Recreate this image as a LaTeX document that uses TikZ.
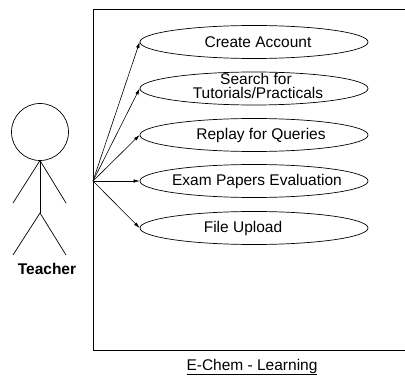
\documentclass[tikz,border=0pt]{standalone}
\usepackage{fontspec}
\setmainfont{Liberation Sans}
\usetikzlibrary{shapes.geometric,arrows.meta,calc}
\begin{document}
\begin{tikzpicture}[x=1pt,y=1pt,
  usecase/.style={draw, ellipse, line width=0.7pt, minimum width=228pt, minimum height=33pt, inner sep=0pt},
  uctext/.style={font=\fontsize{15.5}{16}\selectfont, inner sep=0pt, align=center},
  assoc/.style={draw, line width=0.6pt, -{Latex[length=6pt,width=3.5pt]}},
  stick/.style={line width=0.7pt}]
\useasboundingbox (0,0) rectangle (405,-377);

% system boundary
\draw[line width=0.8pt] (420,-9) -- (93,-9) -- (93,-350) -- (420,-350);

% actor
\node[draw, circle, stick, minimum size=57pt, inner sep=0pt] (head) at (40,-132) {};
\coordinate (neck) at (40,-160.5);
\coordinate (hip) at (40,-213);
\coordinate (lhand) at (13,-203);
\coordinate (rhand) at (66,-203);
\coordinate (lfoot) at (13,-255);
\coordinate (rfoot) at (66,-255);
\draw[stick] (head.south) -- (hip);
\draw[stick] (neck) -- (lhand);
\draw[stick] (neck) -- (rhand);
\draw[stick] (hip) -- (lfoot);
\draw[stick] (hip) -- (rfoot);
\node[uctext, font=\fontsize{15.5}{16}\selectfont\bfseries] (teacher) at (47,-269) {Teacher};

% use cases
\node[usecase] (uc1) at (254,-42) {};
\node[usecase] (uc2) at (254,-88.5) {};
\node[usecase] (uc3) at (254,-135) {};
\node[usecase] (uc4) at (254,-181) {};
\node[usecase] (uc5) at (254,-228) {};

\node[uctext] at ($(uc1)+(4,0)$) {Create Account};
\node[uctext, text height=11pt, text depth=3pt] at ($(uc2)+(2,7.5)$) {Search for};
\node[uctext, text height=11pt, text depth=3pt] at ($(uc2)+(4,-6.5)$) {Tutorials/Practicals};
\node[uctext] at ($(uc3)+(7,0)$) {Replay for Queries};
\node[uctext] at ($(uc4)+(3,0)$) {Exam Papers Evaluation};
\node[uctext] at ($(uc5)+(-11,0)$) {File Upload};

% associations
\coordinate (o) at (93,-181);
\foreach \u in {uc1,uc2,uc3,uc4,uc5}
  \draw[assoc] (o) -- (\u.west);

% system name
\node[uctext] (sys) at (252,-367) {\underline{E-Chem - Learning}};
\end{tikzpicture}
\end{document}
